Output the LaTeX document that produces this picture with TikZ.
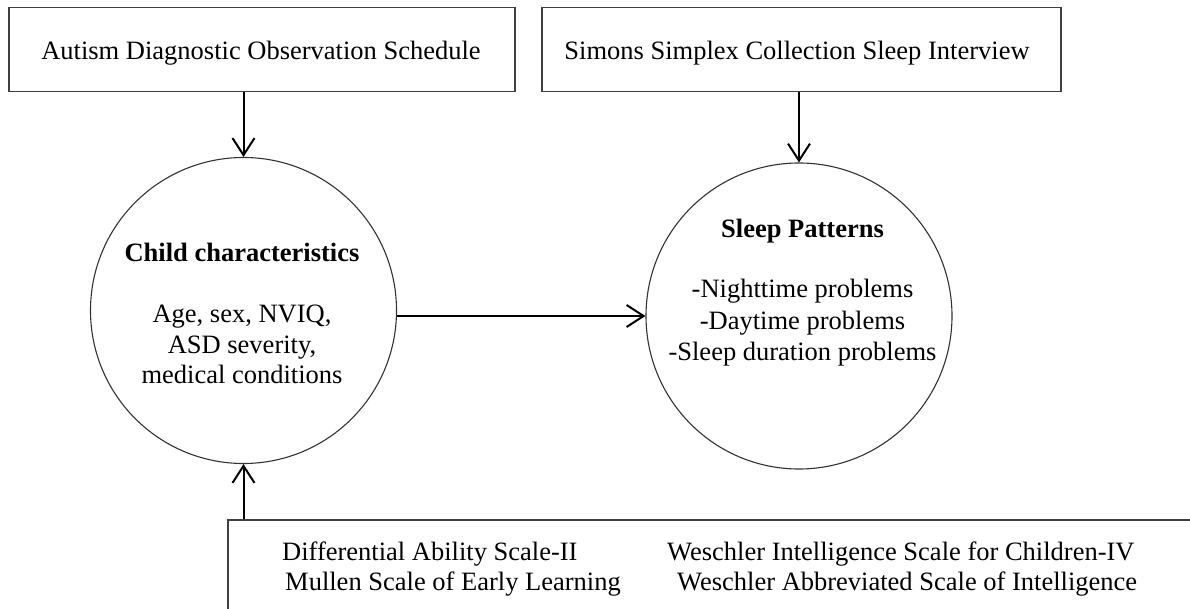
\documentclass[tikz,border=0pt]{standalone}
\usepackage{fontspec}
\setmainfont{Liberation Serif}
\usetikzlibrary{arrows.meta}
\begin{document}
\begin{tikzpicture}[x=1pt,y=-1pt,
  box/.style={draw=black!75, line width=1.5pt, inner sep=0pt, anchor=north west, minimum height=84pt},
  ring/.style={draw=black!80, line width=1.1pt, circle, minimum size=306pt, inner sep=0pt},
  txt/.style={inner sep=0pt, font=\fontsize{26.5}{30}\selectfont},
  arr/.style={line width=2pt, -{Straight Barb[length=17pt,width=22pt,line width=2pt]}}]
\useasboundingbox (0,0) rectangle (1190,609);
\fill[white] (0,0) rectangle (1190,609);
\clip (0,0) rectangle (1190,609);
% boxes
\node[box, minimum width=506pt] (ados) at (8,7) {};
\node[box, minimum width=519pt] (simons) at (541,7) {};
\node[box, minimum width=1000pt, minimum height=130pt] (bottom) at (227,519) {};
% circles
\node[ring] (left) at (243.5,310.5) {};
\node[ring] (right) at (799,316) {};
% top texts
\node[txt, anchor=base] (adost) at (261,60) {Autism Diagnostic Observation Schedule};
\node[txt, anchor=base] (simonst) at (797,60) {Simons Simplex Collection Sleep Interview};
% left circle texts
\node[txt, anchor=base] (l1) at (242,262) {\bfseries Child characteristics};
\node[txt, anchor=base] (l2) at (242,323) {Age, sex, NVIQ,};
\node[txt, anchor=base] (l3) at (242,353) {ASD severity,};
\node[txt, anchor=base] (l4) at (242,383) {medical conditions};
% right circle texts
\node[txt, anchor=base] (r1) at (802.5,238) {\bfseries Sleep Patterns};
\node[txt, anchor=base] (r2) at (802.5,298) {-Nighttime problems};
\node[txt, anchor=base] (r3) at (802.5,329) {-Daytime problems};
\node[txt, anchor=base] (r4) at (802.5,360) {-Sleep duration problems};
% bottom texts
\node[txt, anchor=base west] (b1) at (282,560) {Differential Ability Scale-II};
\node[txt, anchor=base west] (b2) at (285,590) {Mullen Scale of Early Learning};
\node[txt, anchor=base west] (b3) at (667,560) {Weschler Intelligence Scale for Children-IV};
\node[txt, anchor=base west] (b4) at (677,590) {Weschler Abbreviated Scale of Intelligence};
% arrows
\draw[arr] (ados.south -| left.north) -- (left.north);
\draw[arr] (simons.south -| right.north) -- (right.north);
\draw[arr] (bottom.north -| left.south) -- (left.south);
\draw[arr] (right.west -| left.east) -- (right.west);
\end{tikzpicture}
\end{document}
